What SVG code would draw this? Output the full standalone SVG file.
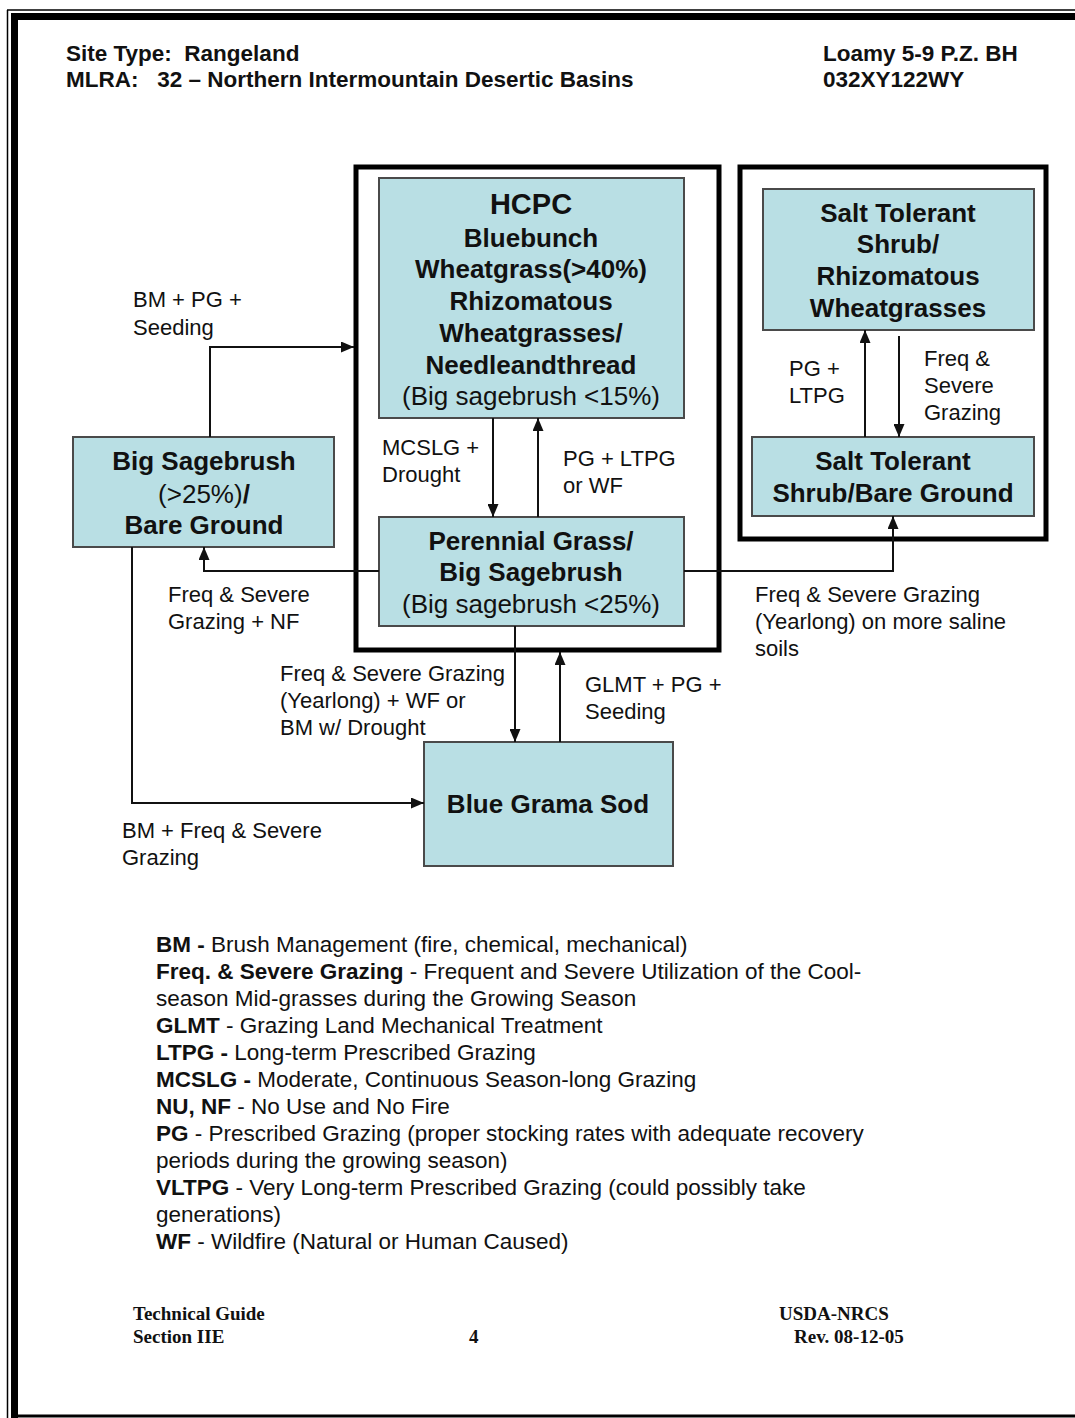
<svg xmlns="http://www.w3.org/2000/svg" width="1075" height="1418" viewBox="0 0 1075 1418">
<style>
text { font-family: "Liberation Sans", Arial, sans-serif; fill: #111; white-space: pre; }
.hdr { font-size: 22.5px; font-weight: bold; }
.nb { font-size: 26px; font-weight: bold; text-anchor: middle; }
.nr { font-size: 26px; font-weight: normal; text-anchor: middle; }
.lbl { font-size: 22px; }
.leg { font-size: 22.5px; }
.leg tspan.b { font-weight: bold; }
.ft { font-family: "Liberation Serif", "Times New Roman", serif; font-size: 19px; font-weight: bold; }
.node { fill: #b9dfe4; stroke: #4a4a4a; stroke-width: 2; }
.frame { fill: none; stroke: #000; stroke-width: 5; }
.conn path { fill: none; stroke: #111; stroke-width: 2; }
</style>
<defs>
<marker id="ah" viewBox="0 0 13 11" refX="13" refY="5.5" markerWidth="13" markerHeight="11" markerUnits="userSpaceOnUse" orient="auto">
<path d="M0,0 L13,5.5 L0,11 z" fill="#111"/>
</marker>
</defs>
<rect x="0" y="0" width="1075" height="1418" fill="#fff"/>
<g id="page-border">
<line x1="7.5" y1="10" x2="7.5" y2="1418" stroke="#000" stroke-width="1.5"/>
<line x1="7" y1="10" x2="1075" y2="10" stroke="#000" stroke-width="1.5"/>
<line x1="14.5" y1="16.5" x2="14.5" y2="1418" stroke="#000" stroke-width="7"/>
<line x1="11" y1="16.5" x2="1075" y2="16.5" stroke="#000" stroke-width="7"/>
<line x1="11" y1="1416" x2="1075" y2="1416" stroke="#000" stroke-width="3"/>
</g>
<g id="header">
<text class="hdr" x="66" y="61">Site Type:  Rangeland</text>
<text class="hdr" x="66" y="87">MLRA:   32 – Northern Intermountain Desertic Basins</text>
<text class="hdr" x="823" y="61">Loamy 5-9 P.Z. BH</text>
<text class="hdr" x="823" y="87">032XY122WY</text>
</g>
<g id="frames">
<rect class="frame" x="356" y="167" width="363" height="483"/>
<rect class="frame" x="740" y="167" width="306" height="372"/>
</g>
<g id="node-hcpc">
<rect class="node" x="379" y="178" width="305" height="240"/>
<text class="nb" x="531" y="214" style="font-size:29px">HCPC</text>
<text class="nb" x="531" y="247">Bluebunch</text>
<text class="nb" x="531" y="278">Wheatgrass(&gt;40%)</text>
<text class="nb" x="531" y="310">Rhizomatous</text>
<text class="nb" x="531" y="342">Wheatgrasses/</text>
<text class="nb" x="531" y="374">Needleandthread</text>
<text class="nr" x="531" y="405">(Big sagebrush &lt;15%)</text>
</g>
<g id="node-perennial">
<rect class="node" x="379" y="517" width="305" height="109"/>
<text class="nb" x="531" y="550">Perennial Grass/</text>
<text class="nb" x="531" y="581">Big Sagebrush</text>
<text class="nr" x="531" y="613">(Big sagebrush &lt;25%)</text>
</g>
<g id="node-bigsage">
<rect class="node" x="73" y="437" width="261" height="110"/>
<text class="nb" x="204" y="470">Big Sagebrush</text>
<text class="nr" x="204" y="503">(&gt;25%)<tspan font-weight="bold">/</tspan></text>
<text class="nb" x="204" y="534">Bare Ground</text>
</g>
<g id="node-bluegrama">
<rect class="node" x="424" y="742" width="249" height="124"/>
<text class="nb" x="548" y="813">Blue Grama Sod</text>
</g>
<g id="node-salt-rhizo">
<rect class="node" x="763" y="189" width="271" height="141"/>
<text class="nb" x="898" y="222">Salt Tolerant</text>
<text class="nb" x="898" y="253">Shrub/</text>
<text class="nb" x="898" y="285">Rhizomatous</text>
<text class="nb" x="898" y="317">Wheatgrasses</text>
</g>
<g id="node-salt-bare">
<rect class="node" x="752" y="437" width="282" height="79"/>
<text class="nb" x="893" y="470">Salt Tolerant</text>
<text class="nb" x="893" y="502">Shrub/Bare Ground</text>
</g>
<g id="connectors" class="conn">
<path d="M210,437 V347 H354" marker-end="url(#ah)"/>
<path d="M493,418 V517" marker-end="url(#ah)"/>
<path d="M538,517 V418" marker-end="url(#ah)"/>
<path d="M379,571 H204 V547" marker-end="url(#ah)"/>
<path d="M684,571 H893 V516" marker-end="url(#ah)"/>
<path d="M515,626 V742" marker-end="url(#ah)"/>
<path d="M560,742 V652" marker-end="url(#ah)"/>
<path d="M132,547 V803 H424" marker-end="url(#ah)"/>
<path d="M865,437 V330" marker-end="url(#ah)"/>
<path d="M899,336 V437" marker-end="url(#ah)"/>
</g>
<g id="connector-labels">
<text class="lbl" x="133" y="307">BM + PG +</text>
<text class="lbl" x="133" y="335">Seeding</text>
<text class="lbl" x="382" y="455">MCSLG +</text>
<text class="lbl" x="382" y="482">Drought</text>
<text class="lbl" x="563" y="466">PG + LTPG</text>
<text class="lbl" x="563" y="493">or WF</text>
<text class="lbl" x="168" y="602">Freq &amp; Severe</text>
<text class="lbl" x="168" y="629">Grazing + NF</text>
<text class="lbl" x="755" y="602">Freq &amp; Severe Grazing</text>
<text class="lbl" x="755" y="629">(Yearlong) on more saline</text>
<text class="lbl" x="755" y="656">soils</text>
<text class="lbl" x="280" y="681">Freq &amp; Severe Grazing</text>
<text class="lbl" x="280" y="708">(Yearlong) + WF or</text>
<text class="lbl" x="280" y="735">BM w/ Drought</text>
<text class="lbl" x="585" y="692">GLMT + PG +</text>
<text class="lbl" x="585" y="719">Seeding</text>
<text class="lbl" x="122" y="838">BM + Freq &amp; Severe</text>
<text class="lbl" x="122" y="865">Grazing</text>
<text class="lbl" x="789" y="376">PG +</text>
<text class="lbl" x="789" y="403">LTPG</text>
<text class="lbl" x="924" y="366">Freq &amp;</text>
<text class="lbl" x="924" y="393">Severe</text>
<text class="lbl" x="924" y="420">Grazing</text>
</g>
<g id="legend" class="leg">
<text class="leg" x="156" y="952"><tspan class="b">BM - </tspan>Brush Management (fire, chemical, mechanical)</text>
<text class="leg" x="156" y="979"><tspan class="b">Freq. &amp; Severe Grazing</tspan> - Frequent and Severe Utilization of the Cool-</text>
<text class="leg" x="156" y="1006">season Mid-grasses during the Growing Season</text>
<text class="leg" x="156" y="1033"><tspan class="b">GLMT</tspan> - Grazing Land Mechanical Treatment</text>
<text class="leg" x="156" y="1060"><tspan class="b">LTPG - </tspan>Long-term Prescribed Grazing</text>
<text class="leg" x="156" y="1087"><tspan class="b">MCSLG - </tspan>Moderate, Continuous Season-long Grazing</text>
<text class="leg" x="156" y="1114"><tspan class="b">NU, NF</tspan> - No Use and No Fire</text>
<text class="leg" x="156" y="1141"><tspan class="b">PG</tspan> - Prescribed Grazing (proper stocking rates with adequate recovery</text>
<text class="leg" x="156" y="1168">periods during the growing season)</text>
<text class="leg" x="156" y="1195"><tspan class="b">VLTPG</tspan> - Very Long-term Prescribed Grazing (could possibly take</text>
<text class="leg" x="156" y="1222">generations)</text>
<text class="leg" x="156" y="1249"><tspan class="b">WF</tspan> - Wildfire (Natural or Human Caused)</text>
</g>
<g id="footer">
<text class="ft" x="133" y="1320">Technical Guide</text>
<text class="ft" x="133" y="1343">Section IIE</text>
<text class="ft" x="469" y="1343">4</text>
<text class="ft" x="779" y="1320">USDA-NRCS</text>
<text class="ft" x="794" y="1343">Rev. 08-12-05</text>
</g>
</svg>
